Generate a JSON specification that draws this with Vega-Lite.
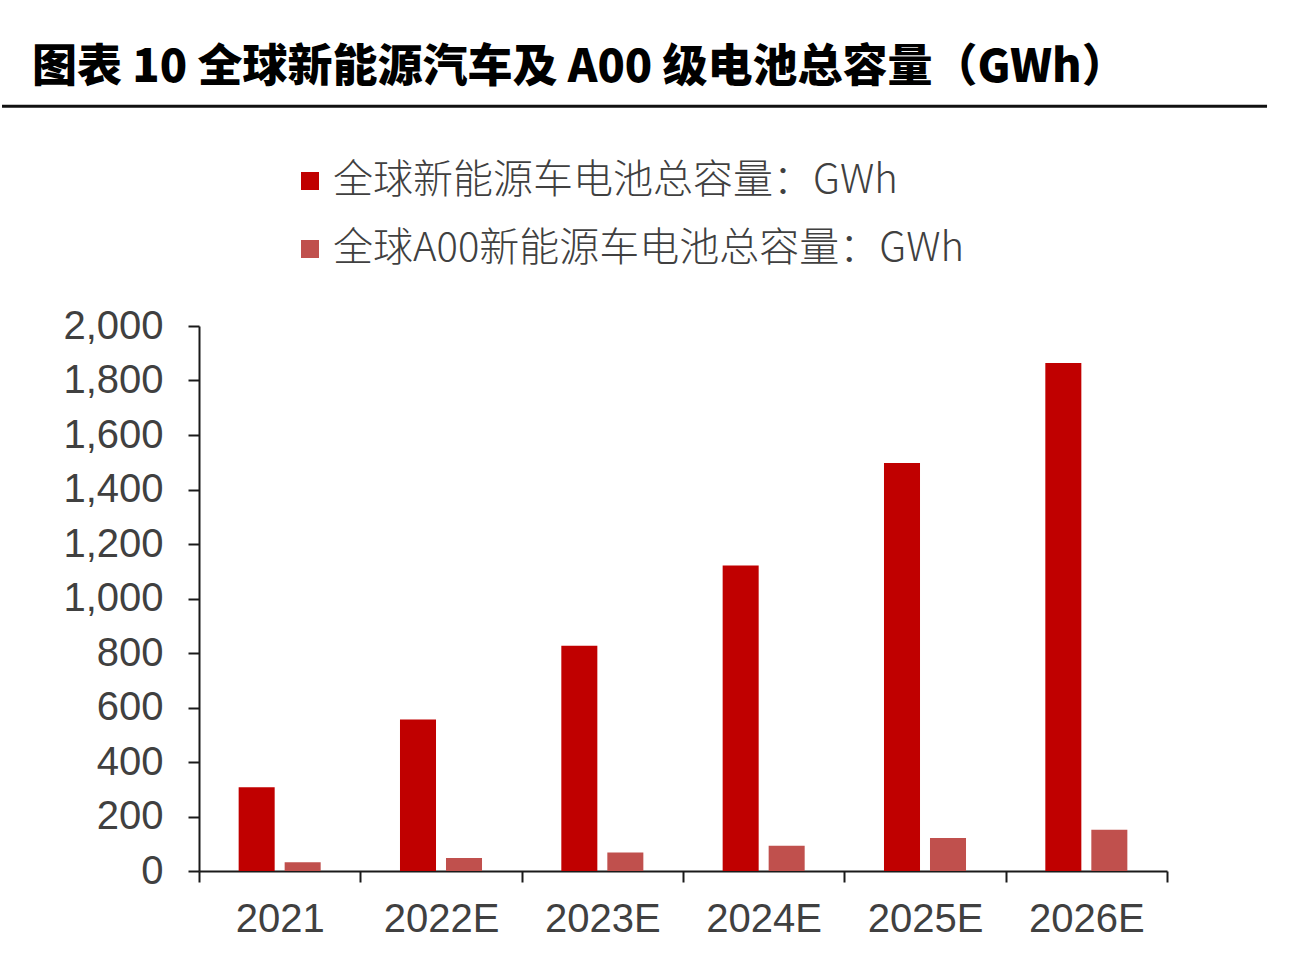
{
  "$schema": "https://vega.github.io/schema/vega-lite/v6.json",
  "background": "white",
  "padding": {"left": 0, "top": 45, "right": 10, "bottom": 10},
  "autosize": {"type": "pad"},
  "width": 968,
  "height": 545,
  "title": {
    "text": "图表 10 全球新能源汽车及 A00 级电池总容量（GWh）",
    "anchor": "start",
    "frame": "group",
    "dx": -167,
    "offset": 14,
    "font": "Noto Sans CJK SC",
    "fontSize": 45,
    "fontWeight": 900,
    "color": "#000000"
  },
  "config": {
    "view": {"stroke": null},
    "axis": {
      "labelFont": "Liberation Sans",
      "labelColor": "#404040",
      "domainColor": "#1a1a1a",
      "tickColor": "#1a1a1a",
      "domainWidth": 2,
      "tickWidth": 2,
      "tickSize": 11,
      "grid": false,
      "title": null
    },
    "legend": {
      "orient": "none",
      "legendX": 91,
      "legendY": -165,
      "direction": "vertical",
      "symbolType": "square",
      "symbolSize": 324,
      "symbolStrokeWidth": 0,
      "labelFont": "Noto Sans CJK SC",
      "labelFontSize": 40,
      "labelFontWeight": 300,
      "labelColor": "#404040",
      "labelOffset": 3,
      "labelLimit": 0,
      "rowPadding": 28,
      "padding": 0,
      "title": null
    }
  },
  "layer": [
    {
      "data": {
        "values": [
          {"year": "2021", "series": "全球新能源车电池总容量：GWh", "value": 307},
          {"year": "2021", "series": "全球A00新能源车电池总容量：GWh", "value": 32},
          {"year": "2022E", "series": "全球新能源车电池总容量：GWh", "value": 556},
          {"year": "2022E", "series": "全球A00新能源车电池总容量：GWh", "value": 48},
          {"year": "2023E", "series": "全球新能源车电池总容量：GWh", "value": 827},
          {"year": "2023E", "series": "全球A00新能源车电池总容量：GWh", "value": 68},
          {"year": "2024E", "series": "全球新能源车电池总容量：GWh", "value": 1121},
          {"year": "2024E", "series": "全球A00新能源车电池总容量：GWh", "value": 93},
          {"year": "2025E", "series": "全球新能源车电池总容量：GWh", "value": 1497},
          {"year": "2025E", "series": "全球A00新能源车电池总容量：GWh", "value": 121},
          {"year": "2026E", "series": "全球新能源车电池总容量：GWh", "value": 1864},
          {"year": "2026E", "series": "全球A00新能源车电池总容量：GWh", "value": 151}
        ]
      },
      "mark": {"type": "bar"},
      "encoding": {
        "x": {
          "field": "year",
          "type": "nominal",
          "sort": null,
          "scale": {"paddingInner": 0, "paddingOuter": 0},
          "axis": {
            "labelAngle": 0,
            "labelFontSize": 40,
            "labelPadding": 17,
            "tickBand": "extent",
            "title": null
          }
        },
        "xOffset": {
          "field": "series",
          "type": "nominal",
          "sort": null,
          "scale": {"paddingInner": 0.217, "paddingOuter": 0.862}
        },
        "y": {
          "field": "value",
          "type": "quantitative",
          "scale": {"domain": [0, 2000], "nice": false},
          "axis": {
            "values": [0, 200, 400, 600, 800, 1000, 1200, 1400, 1600, 1800, 2000],
            "format": ",.0f",
            "labelFontSize": 40,
            "labelPadding": 25,
            "title": null
          }
        },
        "color": {
          "field": "series",
          "type": "nominal",
          "sort": null,
          "scale": {
            "domain": ["全球新能源车电池总容量：GWh", "全球A00新能源车电池总容量：GWh"],
            "range": ["#C00000", "#C0504D"]
          }
        }
      }
    },
    {
      "data": {"values": [{"from": "2021", "to": "2026E", "level": 2806}]},
      "mark": {"type": "rule", "color": "#111111", "strokeWidth": 3},
      "encoding": {
        "x": {"field": "from", "type": "nominal", "bandPosition": -1.221},
        "x2": {"field": "to", "bandPosition": 1.62},
        "y": {"field": "level", "type": "quantitative"}
      }
    }
  ]
}
